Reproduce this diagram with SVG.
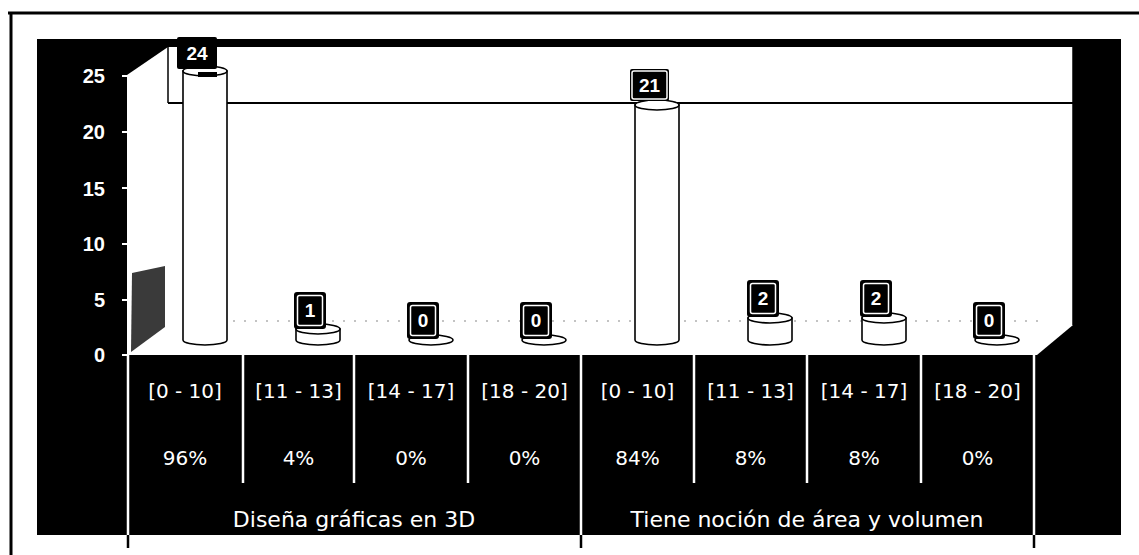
<svg xmlns="http://www.w3.org/2000/svg" width="1139" height="555" viewBox="0 0 1139 555">
<style>
.ax{font-family:"Liberation Sans",Arial,sans-serif;font-weight:bold;font-size:20px;fill:#fff;text-anchor:end}
.cat{font-family:"DejaVu Sans",Verdana,sans-serif;font-size:20px;fill:#fff;text-anchor:middle}
.grp{font-family:"DejaVu Sans",Verdana,sans-serif;font-size:22px;fill:#fff;text-anchor:middle}
.val{font-family:"Liberation Sans",Arial,sans-serif;font-weight:bold;font-size:19px;fill:#fff;text-anchor:middle}
.cyl{fill:#fff;stroke:#000;stroke-width:1.6}
.lbo{fill:#000}
.lbi{fill:#000;stroke:#fff;stroke-width:1.5}
.div{stroke:#fff;stroke-width:2.5}
.tick{stroke:#fff;stroke-width:2}
</style>
<rect width="1139" height="555" fill="#fff"/>
<g id="frame" stroke="#000" stroke-width="3" fill="none">
<line x1="8" y1="13" x2="1139" y2="13"/>
<line x1="11" y1="12" x2="11" y2="555"/>
</g>
<g id="background">
<rect x="37" y="39" width="1084" height="496" fill="#000"/>
<polygon points="127,75 168,47 1073,47 1073,325 1037,355 127,355" fill="#fff"/>
<polygon points="132,273 165,266 165,327 131,352" fill="#3a3a3a"/>
<line x1="168" y1="47" x2="168" y2="103" stroke="#000" stroke-width="1.5"/>
<line x1="168" y1="103" x2="1073" y2="103" stroke="#000" stroke-width="2"/>
<line x1="1073" y1="47" x2="1073" y2="325" stroke="#000" stroke-width="1.5"/>
<line x1="200" y1="321" x2="1040" y2="321" stroke="#888" stroke-width="1.2" stroke-dasharray="2 9"/>
</g>
<g id="yaxis">
<text class="ax" x="105" y="83">25</text>
<text class="ax" x="105" y="139">20</text>
<text class="ax" x="105" y="196">15</text>
<text class="ax" x="105" y="251">10</text>
<text class="ax" x="105" y="307">5</text>
<text class="ax" x="105" y="362">0</text>
<line class="tick" x1="122" y1="76" x2="127" y2="76"/>
<line class="tick" x1="122" y1="132" x2="127" y2="132"/>
<line class="tick" x1="122" y1="188" x2="127" y2="188"/>
<line class="tick" x1="122" y1="244" x2="127" y2="244"/>
<line class="tick" x1="122" y1="300" x2="127" y2="300"/>
<line class="tick" x1="122" y1="355" x2="127" y2="355"/>
</g>
<g id="bar1">
<path class="cyl" d="M183,71 L183,340 A22 5 0 0 0 227,340 L227,71 Z"/>
<ellipse cx="205" cy="71" rx="22" ry="5" class="cyl"/>
<path d="M198,72 L217,72 L217,77 L198,77 Z" fill="#000"/>
<rect class="lbo" x="177" y="37" width="40" height="32" rx="2"/>
<text class="val" x="197" y="60">24</text>
</g>
<g id="bar2">
<path class="cyl" d="M296,329 L296,340 A22 5 0 0 0 340,340 L340,329 Z"/>
<ellipse cx="318" cy="329" rx="22" ry="5" class="cyl"/>
<rect class="lbo" x="294" y="292" width="32" height="37" rx="3"/>
<rect class="lbi" x="297.5" y="295.5" width="25" height="30" rx="2"/>
<text class="val" x="310" y="317">1</text>
</g>
<g id="bar3">
<ellipse cx="431" cy="340" rx="22" ry="5" class="cyl"/>
<rect class="lbo" x="407" y="302" width="32" height="37" rx="3"/>
<rect class="lbi" x="410.5" y="305.5" width="25" height="30" rx="2"/>
<text class="val" x="423" y="327">0</text>
</g>
<g id="bar4">
<ellipse cx="544" cy="340" rx="22" ry="5" class="cyl"/>
<rect class="lbo" x="520" y="302" width="32" height="37" rx="3"/>
<rect class="lbi" x="523.5" y="305.5" width="25" height="30" rx="2"/>
<text class="val" x="536" y="327">0</text>
</g>
<g id="bar5">
<path class="cyl" d="M635,105 L635,340 A22 5 0 0 0 679,340 L679,105 Z"/>
<ellipse cx="657" cy="105" rx="22" ry="5" class="cyl"/>
<rect class="lbo" x="630" y="69" width="39" height="32" rx="2"/>
<rect class="lbi" x="632" y="71" width="35" height="28" rx="2"/>
<text class="val" x="649.5" y="92">21</text>
</g>
<g id="bar6">
<path class="cyl" d="M748,318 L748,340 A22 5 0 0 0 792,340 L792,318 Z"/>
<ellipse cx="770" cy="318" rx="22" ry="5" class="cyl"/>
<rect class="lbo" x="747" y="280" width="32" height="37" rx="3"/>
<rect class="lbi" x="750.5" y="283.5" width="25" height="30" rx="2"/>
<text class="val" x="763" y="305">2</text>
</g>
<g id="bar7">
<path class="cyl" d="M862,318 L862,340 A22 5 0 0 0 906,340 L906,318 Z"/>
<ellipse cx="884" cy="318" rx="22" ry="5" class="cyl"/>
<rect class="lbo" x="860" y="280" width="32" height="37" rx="3"/>
<rect class="lbi" x="863.5" y="283.5" width="25" height="30" rx="2"/>
<text class="val" x="876" y="305">2</text>
</g>
<g id="bar8">
<ellipse cx="997" cy="340" rx="22" ry="5" class="cyl"/>
<rect class="lbo" x="973" y="302" width="32" height="37" rx="3"/>
<rect class="lbi" x="976.5" y="305.5" width="25" height="30" rx="2"/>
<text class="val" x="989" y="327">0</text>
</g>
<g id="table">
<line class="div" x1="128" y1="355" x2="128" y2="535"/>
<line class="div" x1="243" y1="355" x2="243" y2="483"/>
<line class="div" x1="354" y1="355" x2="354" y2="483"/>
<line class="div" x1="468" y1="355" x2="468" y2="483"/>
<line class="div" x1="581" y1="355" x2="581" y2="535"/>
<line class="div" x1="694" y1="355" x2="694" y2="483"/>
<line class="div" x1="807" y1="355" x2="807" y2="483"/>
<line class="div" x1="921" y1="355" x2="921" y2="483"/>
<line class="div" x1="1034" y1="355" x2="1034" y2="535"/>
<g stroke="#000" stroke-width="2.5">
<line x1="128" y1="535" x2="128" y2="548"/>
<line x1="581" y1="535" x2="581" y2="548"/>
<line x1="1034" y1="535" x2="1034" y2="548"/>
</g>
<text class="cat" x="185" y="398">[0 - 10]</text>
<text class="cat" x="298.5" y="398">[11 - 13]</text>
<text class="cat" x="411" y="398">[14 - 17]</text>
<text class="cat" x="524.5" y="398">[18 - 20]</text>
<text class="cat" x="637.5" y="398">[0 - 10]</text>
<text class="cat" x="750.5" y="398">[11 - 13]</text>
<text class="cat" x="864" y="398">[14 - 17]</text>
<text class="cat" x="977.5" y="398">[18 - 20]</text>
<text class="cat" x="185" y="465">96%</text>
<text class="cat" x="298.5" y="465">4%</text>
<text class="cat" x="411" y="465">0%</text>
<text class="cat" x="524.5" y="465">0%</text>
<text class="cat" x="637.5" y="465">84%</text>
<text class="cat" x="750.5" y="465">8%</text>
<text class="cat" x="864" y="465">8%</text>
<text class="cat" x="977.5" y="465">0%</text>
<text class="grp" x="354" y="527">Diseña gráficas en 3D</text>
<text class="grp" x="807" y="527">Tiene noción de área y volumen</text>
</g>
</svg>
